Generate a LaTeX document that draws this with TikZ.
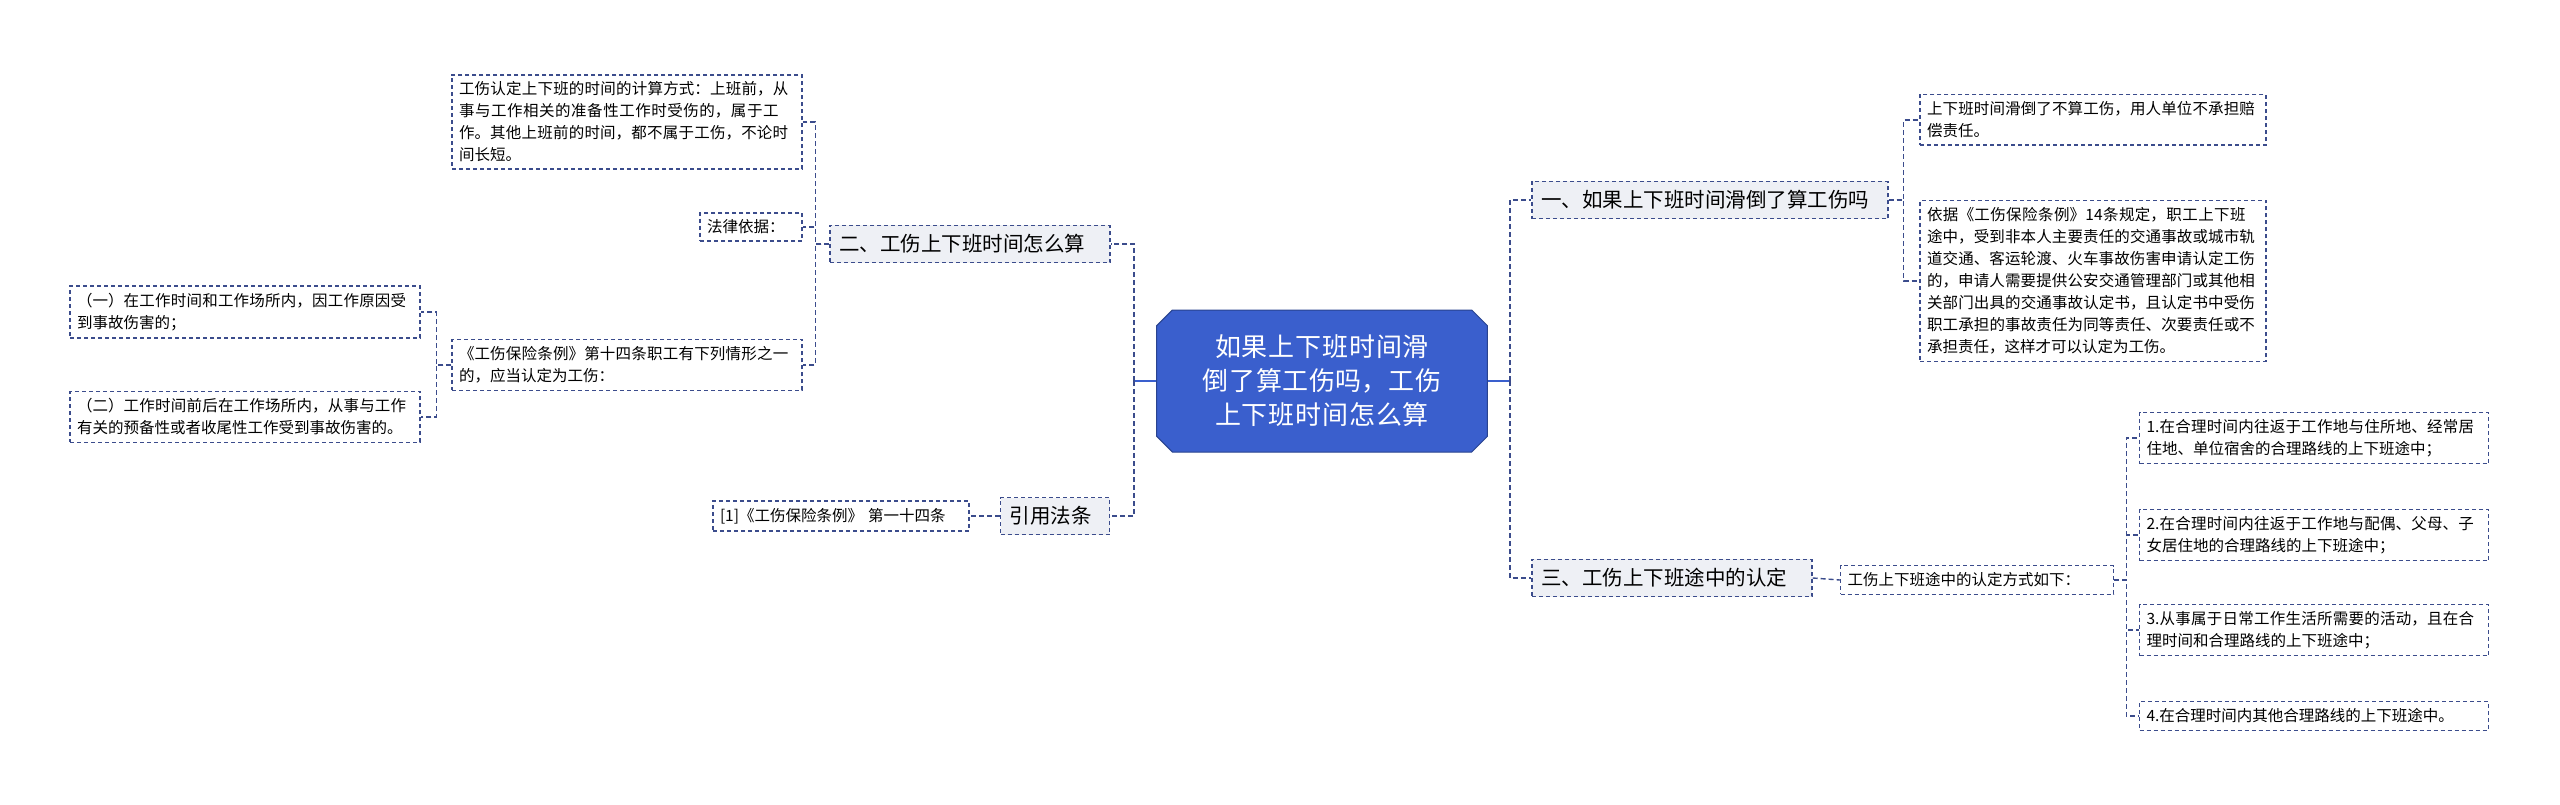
\documentclass[tikz,border=0pt]{standalone}
\usepackage{fontspec}
\setmainfont{Noto Sans CJK SC}
\XeTeXlinebreaklocale "zh"
\XeTeXlinebreakskip=0pt plus 1pt
\usetikzlibrary{shapes.misc}
\definecolor{lc}{HTML}{3B4C8C}
\definecolor{cb}{HTML}{3A5FCD}
\definecolor{gf}{HTML}{EEF0F5}
\tikzset{
  leaf/.style={draw=lc,dashed,dash pattern=on 4pt off 3pt,line width=1.4pt,inner sep=7pt,align=left,font=\fontsize{15.5}{22}\selectfont,fill=white},
  branch/.style={leaf,fill=gf,font=\fontsize{20.5}{28}\selectfont,inner sep=9pt},
  conn/.style={draw=lc,dashed,dash pattern=on 5pt off 3pt,line width=1.4pt},
  root/.style={chamfered rectangle,chamfered rectangle xsep=12pt,fill=cb,draw=cb!70!black,line width=1pt,text=white,align=center,font=\fontsize{26}{34}\selectfont,text width=300pt,minimum height=142pt}
}
\begin{document}
\begin{tikzpicture}[x=1pt,y=-1pt]
\useasboundingbox[fill=white] (0,0) rectangle (2560,805);
\node[root] (c) at (1322,381) {如果上下班时间滑倒了算工伤吗，工伤上下班时间怎么算};
% left
\node[branch,text width=262pt] (b2) at (970,244) {二、工伤上下班时间怎么算};
\node[leaf,text width=336pt] (t1) at (627,122) {工伤认定上下班的时间的计算方式：上班前，从事与工作相关的准备性工作时受伤的，属于工作。其他上班前的时间，都不属于工伤，不论时间长短。};
\node[leaf,text width=88pt] (t2) at (751,227) {法律依据：};
\node[leaf,text width=336pt] (t3) at (627,365) {《工伤保险条例》第十四条职工有下列情形之一的，应当认定为工伤：};
\node[leaf,text width=336pt] (t4) at (245,312) {（一）在工作时间和工作场所内，因工作原因受到事故伤害的；};
\node[leaf,text width=336pt] (t5) at (245,417) {（二）工作时间前后在工作场所内，从事与工作有关的预备性或者收尾性工作受到事故伤害的。};
\node[branch,text width=91pt] (b4) at (1055,516) {引用法条};
\node[leaf,text width=242pt] (t6) at (841,516) {[1]《工伤保险条例》 第一十四条};
% right
\node[branch,text width=338pt] (b1) at (1710,200) {一、如果上下班时间滑倒了算工伤吗};
\node[leaf,text width=332pt] (r1) at (2093,120) {上下班时间滑倒了不算工伤，用人单位不承担赔偿责任。};
\node[leaf,text width=332pt] (r2) at (2093,281) {依据《工伤保险条例》14条规定，职工上下班途中，受到非本人主要责任的交通事故或城市轨道交通、客运轮渡、火车事故伤害申请认定工伤的，申请人需要提供公安交通管理部门或其他相关部门出具的交通事故认定书，且认定书中受伤职工承担的事故责任为同等责任、次要责任或不承担责任，这样才可以认定为工伤。};
\node[branch,text width=262pt] (b3) at (1672,578) {三、工伤上下班途中的认定};
\node[leaf,text width=259pt] (m) at (1977,580) {工伤上下班途中的认定方式如下：};
\node[leaf,text width=335pt] (s1) at (2314,438) {1.在合理时间内往返于工作地与住所地、经常居住地、单位宿舍的合理路线的上下班途中；};
\node[leaf,text width=335pt] (s2) at (2314,535) {2.在合理时间内往返于工作地与配偶、父母、子女居住地的合理路线的上下班途中；};
\node[leaf,text width=335pt] (s3) at (2314,630) {3.从事属于日常工作生活所需要的活动，且在合理时间和合理路线的上下班途中；};
\node[leaf,text width=335pt] (s4) at (2314,716) {4.在合理时间内其他合理路线的上下班途中。};
% root connectors
\draw[cb,line width=2.5pt] (c.west) -- ++(-22,0) coordinate (lt);
\draw[cb,line width=2.5pt] (c.east) -- ++(22,0) coordinate (rt);
\foreach \n in {b2,b4} \draw[conn] (lt) |- (\n.east);
\foreach \n in {b1,b3} \draw[conn] (rt) |- (\n.west);
% left children
\foreach \n in {t1,t2,t3} \draw[conn] (b2.west) -- ++(-14,0) |- (\n.east);
\foreach \n in {t4,t5} \draw[conn] (t3.west) -- ++(-15,0) |- (\n.east);
\draw[conn] (b4.west) -- (t6.east);
% right children
\foreach \n in {r1,r2} \draw[conn] (b1.east) -- ++(15,0) |- (\n.west);
\draw[conn] (b3.east) -- (m.west);
\foreach \n in {s1,s2,s3,s4} \draw[conn] (m.east) -- ++(12,0) |- (\n.west);
\end{tikzpicture}
\end{document}
